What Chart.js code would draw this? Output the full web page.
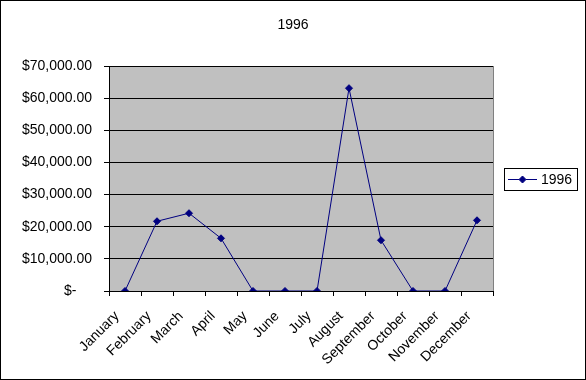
<!DOCTYPE html>
<html>
<head>
<meta charset="utf-8">
<script src="https://cdn.jsdelivr.net/npm/chart.js@4/dist/chart.umd.min.js"></script>
<style>
  html, body { margin: 0; padding: 0; background: #ffffff; }
  canvas { display: block; }
</style>
</head>
<body>
<canvas id="c" width="586" height="380"></canvas>
<script>
// ---- data ----
const chartTitle = '1996';
const seriesLabel = '1996';
const months = ['January', 'February', 'March', 'April', 'May', 'June', 'July',
                'August', 'September', 'October', 'November', 'December'];
const sales1996 = [0, 21700, 24200, 16400, 0, 0, 0, 63100, 15800, 0, 0, 22000];
const yTickValues = [0, 10000, 20000, 30000, 40000, 50000, 60000, 70000];

const FONT = "'Liberation Sans', Arial, sans-serif";
const NAVY = '#000080';

function money(v) {
  if (v === 0) return '$-    ';
  return '$' + v.toLocaleString('en-US', { minimumFractionDigits: 2, maximumFractionDigits: 2 });
}

const decorPlugin = {
  id: 'decor',
  beforeDraw(chart) {
    const ctx = chart.ctx;
    const a = chart.chartArea;
    ctx.save();
    ctx.fillStyle = '#ffffff';
    ctx.fillRect(0, 0, chart.width, chart.height);
    ctx.fillStyle = '#c0c0c0';
    ctx.fillRect(a.left, a.top, a.right - a.left, a.bottom - a.top);
    ctx.strokeStyle = '#808080';
    ctx.lineWidth = 1;
    ctx.beginPath();
    ctx.moveTo(a.right + 0.5, a.top);
    ctx.lineTo(a.right + 0.5, a.bottom);
    ctx.stroke();
    ctx.restore();
  },
  afterDraw(chart) {
    const ctx = chart.ctx;
    ctx.save();
    // title
    ctx.fillStyle = '#000000';
    ctx.font = '14px ' + FONT;
    ctx.textAlign = 'center';
    ctx.textBaseline = 'middle';
    ctx.fillText(chartTitle, 293, 25);
    // legend box
    const lx = 504.5, ly = 168.5, lw = 73, lh = 22;
    ctx.fillStyle = '#ffffff';
    ctx.fillRect(lx, ly, lw, lh);
    ctx.strokeStyle = '#000000';
    ctx.lineWidth = 1;
    ctx.strokeRect(lx, ly, lw, lh);
    const cy = 179.5;
    ctx.strokeStyle = NAVY;
    ctx.beginPath();
    ctx.moveTo(508, cy);
    ctx.lineTo(537, cy);
    ctx.stroke();
    Chart.helpers.drawPoint(ctx, {
      pointStyle: 'rectRot', radius: 3.5, rotation: 0, borderWidth: 1
    }, 522.5, cy);
    ctx.fillStyle = NAVY;
    ctx.fill();
    ctx.fillStyle = '#000000';
    ctx.textAlign = 'left';
    ctx.textBaseline = 'middle';
    ctx.font = '14px ' + FONT;
    ctx.fillText(chart.data.datasets[0].label, 541, cy + 0.5);
    // outer border
    ctx.strokeStyle = '#000000';
    ctx.strokeRect(0.5, 0.5, chart.width - 1, chart.height - 1);
    ctx.restore();
  }
};

new Chart(document.getElementById('c'), {
  type: 'line',
  data: {
    labels: months,
    datasets: [{
      label: seriesLabel,
      data: sales1996,
      borderColor: NAVY,
      backgroundColor: NAVY,
      borderWidth: 1,
      pointStyle: 'rectRot',
      pointRadius: 3.5,
      pointBorderWidth: 1,
      pointBackgroundColor: NAVY,
      pointBorderColor: NAVY,
      tension: 0,
      fill: false
    }]
  },
  options: {
    responsive: false,
    animation: false,
    devicePixelRatio: 1,
    layout: { padding: { top: 66, right: 93, bottom: 0, left: 0 } },
    plugins: {
      legend: { display: false },
      title: { display: false },
      tooltip: { enabled: false }
    },
    scales: {
      x: {
        offset: true,
        grid: { offset: true, drawOnChartArea: false, drawTicks: true, tickLength: 5, color: '#000000', lineWidth: 1 },
        border: { color: '#000000', width: 1 },
        ticks: {
          autoSkip: false, maxRotation: 45, minRotation: 45,
          color: '#000000', font: { family: FONT, size: 14 },
          padding: 12, labelOffset: -8
        },
        afterFit(scale) { scale.height = 89; }
      },
      y: {
        min: 0, max: 70000,
        afterBuildTicks(scale) { scale.ticks = yTickValues.map(v => ({ value: v })); },
        grid: { color: '#000000', lineWidth: 1, drawTicks: true, tickLength: 5 },
        border: { color: '#000000', width: 1 },
        ticks: {
          color: '#000000', font: { family: FONT, size: 14 }, padding: 12,
          callback: (v) => money(v)
        },
        afterFit(scale) { scale.width = 109; }
      }
    }
  },
  plugins: [decorPlugin]
});
</script>
</body>
</html>
